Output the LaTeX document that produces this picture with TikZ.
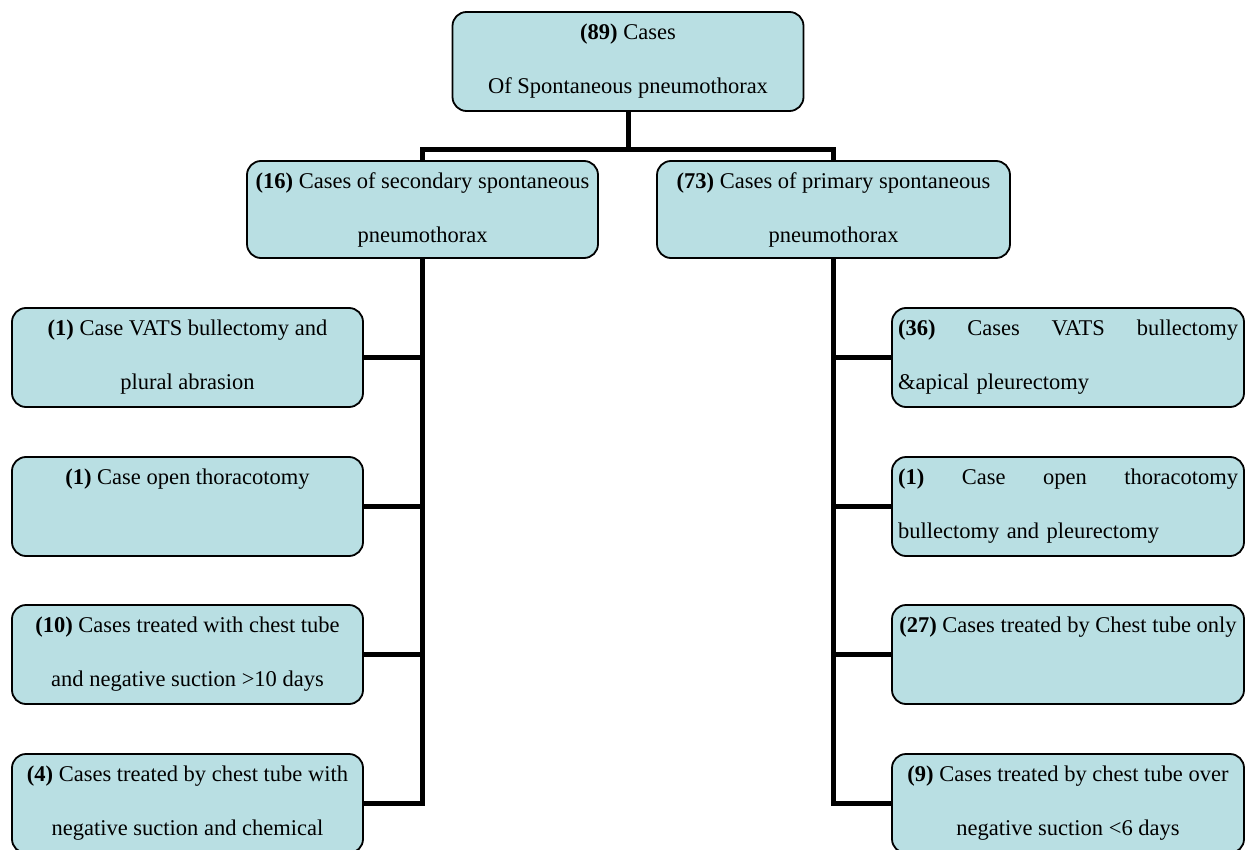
\documentclass[tikz,border=0pt]{standalone}
\usepackage{fontspec}
\setmainfont{Liberation Serif}
\definecolor{boxfill}{HTML}{B9DFE3}
\begin{document}
\begin{tikzpicture}[x=0.5pt,y=-0.5pt,
  box/.style={draw=black, line width=0.9pt, fill=boxfill, rounded corners=7pt,
    minimum height=49.5pt, minimum width=175.5pt, inner xsep=3pt, inner ysep=0pt,
    align=center, font=\fontsize{11.25}{27}\selectfont},
  midbox/.style={box, minimum height=48.5pt},
  jbox/.style={box, text width=170pt, align=left},
  link/.style={line width=2.5pt}]
\useasboundingbox (0,0) rectangle (1247,850);
\clip (0,0) rectangle (1247,850);

\node[box] (top) at (628,61.5) {\textbf{(89)} Cases\\Of Spontaneous pneumothorax};
\node[midbox] (sec) at (422.5,209.5) {\textbf{(16)} Cases of secondary spontaneous\\pneumothorax};
\node[midbox, minimum width=176.5pt] (pri) at (833.5,209.5) {\textbf{(73)} Cases of primary spontaneous\\pneumothorax};

\node[box] (l1) at (187.5,357.5) {\textbf{(1)} Case VATS bullectomy and\\plural abrasion};
\node[box] (l2) at (187.5,506.5) {\textbf{(1)} Case open thoracotomy\\\vphantom{Cp}};
\node[box] (l3) at (187.5,654.5) {\textbf{(10)} Cases treated with chest tube\\and negative suction >10 days};
\node[box] (l4) at (187.5,803.5) {\textbf{(4)} Cases treated by chest tube with\\negative suction and chemical};

\node[jbox] (r1) at (1068,357.5) {\textbf{(36)}\hfill Cases\hfill VATS\hfill bullectomy\\\&apical pleurectomy};
\node[jbox] (r2) at (1068,506.5) {\textbf{(1)}\hfill Case\hfill open\hfill thoracotomy\\bullectomy and pleurectomy};
\node[box, minimum width=176pt] (r3) at (1068,654.5) {\textbf{(27)} Cases treated by Chest tube only\\\vphantom{Cp}};
\node[box, minimum width=176pt] (r4) at (1068,803.5) {\textbf{(9)} Cases treated by chest tube over\\negative suction <6 days};

\coordinate (bar) at (628,150);
\draw[link] (top.south) -- (top.south |- bar) -| (sec.north);
\draw[link] (top.south |- bar) -| (pri.north);

\draw[link] (sec.south) |- (l4.east);
\draw[link] (l1.east) -- (l1.east -| sec.south);
\draw[link] (l2.east) -- (l2.east -| sec.south);
\draw[link] (l3.east) -- (l3.east -| sec.south);

\draw[link] (pri.south) |- (r4.west);
\draw[link] (r1.west) -- (r1.west -| pri.south);
\draw[link] (r2.west) -- (r2.west -| pri.south);
\draw[link] (r3.west) -- (r3.west -| pri.south);
\end{tikzpicture}
\end{document}
